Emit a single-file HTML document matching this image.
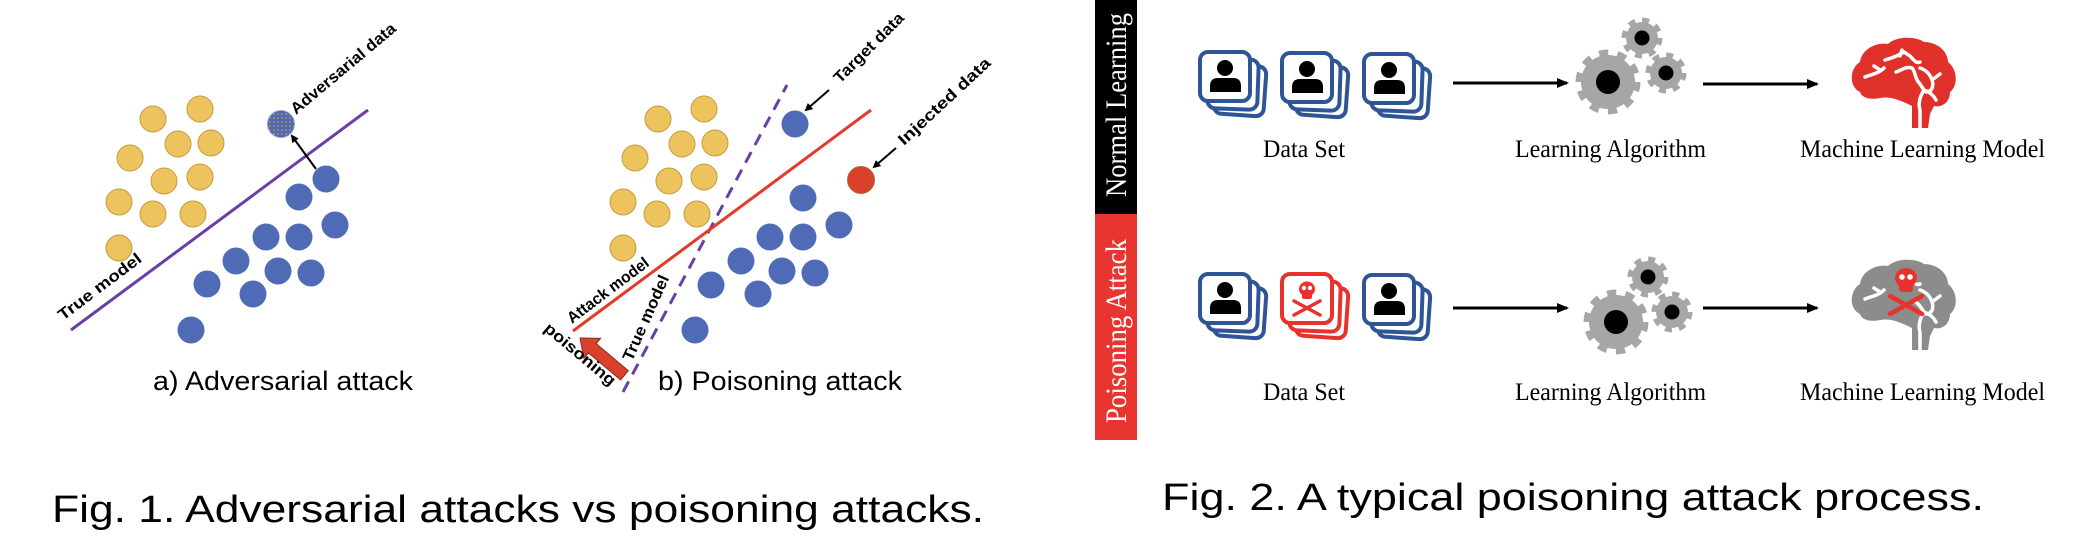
<!DOCTYPE html>
<html><head><meta charset="utf-8"><style>
html,body{margin:0;padding:0;background:#fff;}
svg{display:block;}
.lb{font-family:"Liberation Sans",sans-serif;font-weight:bold;fill:#000;}
.sf{font-family:"Liberation Serif",serif;fill:#000;}
</style></head><body>
<svg width="2098" height="546" viewBox="0 0 2098 546" xmlns="http://www.w3.org/2000/svg">
<defs>
<pattern id="dots" width="4" height="4" patternUnits="userSpaceOnUse"><rect width="4" height="4" fill="#5268ae"/><circle cx="2" cy="2" r="0.8" fill="#d8b060"/></pattern>
<marker id="ah" markerWidth="8" markerHeight="8" refX="6" refY="4" orient="auto" markerUnits="userSpaceOnUse"><path d="M0,0 L8,4 L0,8 Z" fill="#000"/></marker>
<marker id="ah2" markerWidth="12" markerHeight="10" refX="10" refY="5" orient="auto" markerUnits="userSpaceOnUse"><path d="M0,0 L12,5 L0,10 Z" fill="#000"/></marker>
<g id="card">
  <rect x="25" y="22" width="50" height="50" rx="8" fill="#fff" stroke="currentColor" stroke-width="4" transform="rotate(4 50 47)"/>
  <rect x="18" y="16" width="50" height="50" rx="8" fill="#fff" stroke="currentColor" stroke-width="4" transform="rotate(2 43 41)"/>
  <rect x="10" y="9" width="50" height="49" rx="8" fill="#fff" stroke="currentColor" stroke-width="4"/>
</g>
<g id="person">
  <circle cx="35" cy="25" r="8" fill="#000"/>
  <path d="M20,49 L20,43 Q20,35 28,35 L43,35 Q51,35 51,43 L51,49 Z" fill="#000"/>
</g>
<g id="skull" fill="#e8322c">
  <ellipse cx="35" cy="24" rx="8" ry="7.5"/>
  <rect x="30" y="28" width="10" height="6" rx="2"/>
  <circle cx="32" cy="23" r="2.2" fill="#fff"/><circle cx="38" cy="23" r="2.2" fill="#fff"/>
  <path d="M22,36 L48,50 M48,36 L22,50" stroke="#e8322c" stroke-width="3.5" stroke-linecap="round"/>
</g>
</defs>

<!-- ===== Fig 1a ===== -->
<g stroke="#c49a3e" stroke-width="1" fill="#ecc35c">
<circle cx="153" cy="119" r="13"/><circle cx="200" cy="109" r="13"/><circle cx="178" cy="144" r="13"/><circle cx="211" cy="143" r="13"/><circle cx="130" cy="158" r="13"/><circle cx="164" cy="181" r="13"/><circle cx="200" cy="177" r="13"/><circle cx="119" cy="202" r="13"/><circle cx="153" cy="214" r="13"/><circle cx="193" cy="214" r="13"/><circle cx="119" cy="248" r="13"/>
</g>
<line x1="71" y1="330" x2="368" y2="110" stroke="#6a3fa5" stroke-width="3"/>
<g fill="#4f6bb5">
<circle cx="326" cy="179" r="13.5"/><circle cx="299" cy="197" r="13.5"/><circle cx="335" cy="225" r="13.5"/><circle cx="266" cy="237" r="13.5"/><circle cx="299" cy="237" r="13.5"/><circle cx="236" cy="261" r="13.5"/><circle cx="207" cy="284" r="13.5"/><circle cx="278" cy="271" r="13.5"/><circle cx="311" cy="273" r="13.5"/><circle cx="253" cy="294" r="13.5"/><circle cx="191" cy="330" r="13.5"/>
</g>
<circle cx="281" cy="124" r="13.5" fill="url(#dots)" stroke="#8aa0d0" stroke-width="0.8"/>
<line x1="316" y1="169" x2="292" y2="136" stroke="#000" stroke-width="2" marker-end="url(#ah)"/>
<text class="lb" font-size="16" transform="translate(63,321) rotate(-37)" textLength="100" lengthAdjust="spacingAndGlyphs">True model</text>
<text class="lb" font-size="16" transform="translate(296,115) rotate(-40)" textLength="132" lengthAdjust="spacingAndGlyphs">Adversarial data</text>
<text x="153" y="390" font-family="Liberation Sans,sans-serif" font-size="27" textLength="260" lengthAdjust="spacingAndGlyphs">a) Adversarial attack</text>

<!-- ===== Fig 1b ===== -->
<g stroke="#c49a3e" stroke-width="1" fill="#ecc35c">
<circle cx="658" cy="119" r="13"/><circle cx="704" cy="109" r="13"/><circle cx="682" cy="144" r="13"/><circle cx="715" cy="143" r="13"/><circle cx="635" cy="158" r="13"/><circle cx="669" cy="181" r="13"/><circle cx="704" cy="177" r="13"/><circle cx="623" cy="202" r="13"/><circle cx="657" cy="214" r="13"/><circle cx="697" cy="214" r="13"/><circle cx="623" cy="248" r="13"/>
</g>
<line x1="623" y1="392" x2="787" y2="85" stroke="#6a3fa5" stroke-width="3" stroke-dasharray="12,8"/>
<line x1="573" y1="331" x2="871" y2="110" stroke="#e43a2a" stroke-width="3"/>
<g fill="#4f6bb5">
<circle cx="795" cy="124" r="13.5"/><circle cx="803" cy="198" r="13.5"/><circle cx="839" cy="225" r="13.5"/><circle cx="770" cy="237" r="13.5"/><circle cx="803" cy="237" r="13.5"/><circle cx="741" cy="261" r="13.5"/><circle cx="711" cy="285" r="13.5"/><circle cx="782" cy="271" r="13.5"/><circle cx="815" cy="273" r="13.5"/><circle cx="758" cy="294" r="13.5"/><circle cx="695" cy="330" r="13.5"/>
</g>
<circle cx="861" cy="180" r="13.5" fill="#d9412b" stroke="#a8702c" stroke-width="1"/>
<line x1="829" y1="90" x2="806" y2="110" stroke="#000" stroke-width="2" marker-end="url(#ah)"/>
<line x1="896" y1="148" x2="874" y2="167" stroke="#000" stroke-width="2" marker-end="url(#ah)"/>
<!-- fat red arrow -->
<g transform="translate(580,338) rotate(40)">
<path d="M0,0 L16,-13 L16,-6 L58,-6 L58,6 L16,6 L16,13 Z" fill="#d9412b" stroke="#8a2a1a" stroke-width="1"/>
</g>
<text class="lb" font-size="16" transform="translate(572,324) rotate(-37)" textLength="98" lengthAdjust="spacingAndGlyphs">Attack model</text>
<text class="lb" font-size="16" transform="translate(632,362) rotate(-66)" textLength="92" lengthAdjust="spacingAndGlyphs">True model</text>
<text class="lb" font-size="16" transform="translate(543,330) rotate(40)" textLength="88" lengthAdjust="spacingAndGlyphs">poisoning</text>
<text class="lb" font-size="16" transform="translate(840,84) rotate(-45)" textLength="92" lengthAdjust="spacingAndGlyphs">Target data</text>
<text class="lb" font-size="16" transform="translate(904,146) rotate(-43)" textLength="120" lengthAdjust="spacingAndGlyphs">Injected data</text>
<text x="658" y="390" font-family="Liberation Sans,sans-serif" font-size="27" textLength="244" lengthAdjust="spacingAndGlyphs">b) Poisoning attack</text>

<!-- captions -->
<text x="52" y="522" font-family="Liberation Sans,sans-serif" font-size="38" textLength="932" lengthAdjust="spacingAndGlyphs">Fig. 1.  Adversarial attacks vs poisoning attacks.</text>
<text x="1162" y="510" font-family="Liberation Sans,sans-serif" font-size="38" textLength="822" lengthAdjust="spacingAndGlyphs">Fig. 2.  A typical poisoning attack process.</text>

<!-- ===== Fig 2 ===== -->
<rect x="1095" y="0" width="42" height="214" fill="#000"/>
<rect x="1095" y="214" width="42" height="226" fill="#e8352f"/>
<text class="sf" font-size="30" fill="#fff" style="fill:#fff" text-anchor="middle" transform="translate(1126,105) rotate(-90)" textLength="184" lengthAdjust="spacingAndGlyphs">Normal Learning</text>
<text class="sf" font-size="30" fill="#fff" style="fill:#fff" text-anchor="middle" transform="translate(1126,331) rotate(-90)" textLength="184" lengthAdjust="spacingAndGlyphs">Poisoning Attack</text>

<!-- row 1 icons -->
<g color="#2f5597"><use href="#card" x="1190" y="43"/><use href="#person" x="1190" y="43"/></g>
<g color="#2f5597"><use href="#card" x="1272" y="44"/><use href="#person" x="1272" y="44"/></g>
<g color="#2f5597"><use href="#card" x="1354" y="45"/><use href="#person" x="1354" y="45"/></g>
<!-- row 2 icons -->
<g color="#2f5597"><use href="#card" x="1190" y="265"/><use href="#person" x="1190" y="265"/></g>
<g color="#e8322c"><use href="#card" x="1272" y="265"/><use href="#skull" x="1272" y="265"/></g>
<g color="#2f5597"><use href="#card" x="1354" y="266"/><use href="#person" x="1354" y="266"/></g>

<line x1="1453" y1="83" x2="1567" y2="83" stroke="#000" stroke-width="3" marker-end="url(#ah2)"/>
<line x1="1453" y1="308" x2="1567" y2="308" stroke="#000" stroke-width="3" marker-end="url(#ah2)"/>
<line x1="1703" y1="84" x2="1817" y2="84" stroke="#000" stroke-width="3" marker-end="url(#ah2)"/>
<line x1="1703" y1="308" x2="1817" y2="308" stroke="#000" stroke-width="3" marker-end="url(#ah2)"/>

<!-- gears row1 -->
<g fill="#a6a6a6" stroke="#a6a6a6">
<circle cx="1608" cy="82" r="27" stroke="none"/><circle cx="1608" cy="82" r="29.5" fill="none" stroke-width="6" stroke-dasharray="9.27,9.27"/>
<circle cx="1642" cy="38" r="16" stroke="none"/><circle cx="1642" cy="38" r="18" fill="none" stroke-width="5" stroke-dasharray="7.07,7.07"/>
<circle cx="1666" cy="73" r="16" stroke="none"/><circle cx="1666" cy="73" r="18" fill="none" stroke-width="5" stroke-dasharray="7.07,7.07"/>
</g>
<circle cx="1608" cy="82" r="12" fill="#000"/><circle cx="1642" cy="38" r="7.5" fill="#000"/><circle cx="1666" cy="73" r="7.5" fill="#000"/>
<!-- gears row2 -->
<g fill="#a6a6a6" stroke="#a6a6a6">
<circle cx="1616" cy="322" r="27" stroke="none"/><circle cx="1616" cy="322" r="29.5" fill="none" stroke-width="6" stroke-dasharray="9.27,9.27"/>
<circle cx="1648" cy="277" r="16" stroke="none"/><circle cx="1648" cy="277" r="18" fill="none" stroke-width="5" stroke-dasharray="7.07,7.07"/>
<circle cx="1672" cy="312" r="16" stroke="none"/><circle cx="1672" cy="312" r="18" fill="none" stroke-width="5" stroke-dasharray="7.07,7.07"/>
</g>
<circle cx="1616" cy="322" r="12" fill="#000"/><circle cx="1648" cy="277" r="7.5" fill="#000"/><circle cx="1672" cy="312" r="7.5" fill="#000"/>

<!-- brains -->
<g id="brain1" transform="translate(1840,30)">
<path d="M20,62 C8,56 10,38 20,32 C22,18 38,12 48,14 C56,6 76,6 84,12 C98,12 108,22 108,32 C118,40 118,56 110,62 C110,72 102,78 94,76 L90,84 L88,98 L72,98 L72,76 C60,70 50,66 40,68 C30,70 22,68 20,62 Z" fill="#e0302a"/>
<g fill="none" stroke="#fff" stroke-width="3.5" stroke-linecap="round" stroke-linejoin="round">
<path d="M25,47 C32,44 38,44 44,38 M34,36 L40,40"/>
<path d="M45,30 C52,28 58,26 64,22 L70,26 C74,30 76,34 80,32 M60,26 L62,20"/>
<path d="M56,42 C62,40 66,36 72,38 C76,42 74,48 80,54 L84,60 C80,66 78,74 80,80 L80,98"/>
<path d="M80,38 C86,40 90,44 92,50 C94,56 92,62 86,62 M84,60 C90,62 94,66 96,70 M92,50 L100,44"/>
</g>
</g>
<g transform="translate(1840,252)">
<path d="M20,62 C8,56 10,38 20,32 C22,18 38,12 48,14 C56,6 76,6 84,12 C98,12 108,22 108,32 C118,40 118,56 110,62 C110,72 102,78 94,76 L90,84 L88,98 L72,98 L72,76 C60,70 50,66 40,68 C30,70 22,68 20,62 Z" fill="#8c8c8c"/>
<g fill="none" stroke="#fff" stroke-width="3.5" stroke-linecap="round" stroke-linejoin="round">
<path d="M25,47 C32,44 38,44 44,38 M34,36 L40,40"/>
<path d="M60,26 L62,20 M70,26 C74,30 76,34 80,32"/>
<path d="M74,48 C76,50 78,52 80,54 L84,60 C80,66 78,74 80,80 L80,98"/>
<path d="M80,38 C86,40 90,44 92,50 C94,56 92,62 86,62 M84,60 C90,62 94,66 96,70 M92,50 L100,44"/>
</g>
<g fill="#e8322c">
<ellipse cx="66" cy="26" rx="11" ry="10"/><rect x="59" y="31" width="14" height="9" rx="3"/>
<circle cx="62" cy="25" r="2.8" fill="#fff"/><circle cx="70" cy="25" r="2.8" fill="#fff"/>
<path d="M50,44 L82,62 M82,44 L50,62" stroke="#e8322c" stroke-width="4.5" stroke-linecap="round"/>
</g>
</g>

<!-- labels fig2 -->
<text class="sf" font-size="25" x="1263" y="157" textLength="82" lengthAdjust="spacingAndGlyphs">Data Set</text>
<text class="sf" font-size="25" x="1515" y="157" textLength="191" lengthAdjust="spacingAndGlyphs">Learning Algorithm</text>
<text class="sf" font-size="25" x="1800" y="157" textLength="245" lengthAdjust="spacingAndGlyphs">Machine Learning Model</text>
<text class="sf" font-size="25" x="1263" y="400" textLength="82" lengthAdjust="spacingAndGlyphs">Data Set</text>
<text class="sf" font-size="25" x="1515" y="400" textLength="191" lengthAdjust="spacingAndGlyphs">Learning Algorithm</text>
<text class="sf" font-size="25" x="1800" y="400" textLength="245" lengthAdjust="spacingAndGlyphs">Machine Learning Model</text>
</svg>
</body></html>
